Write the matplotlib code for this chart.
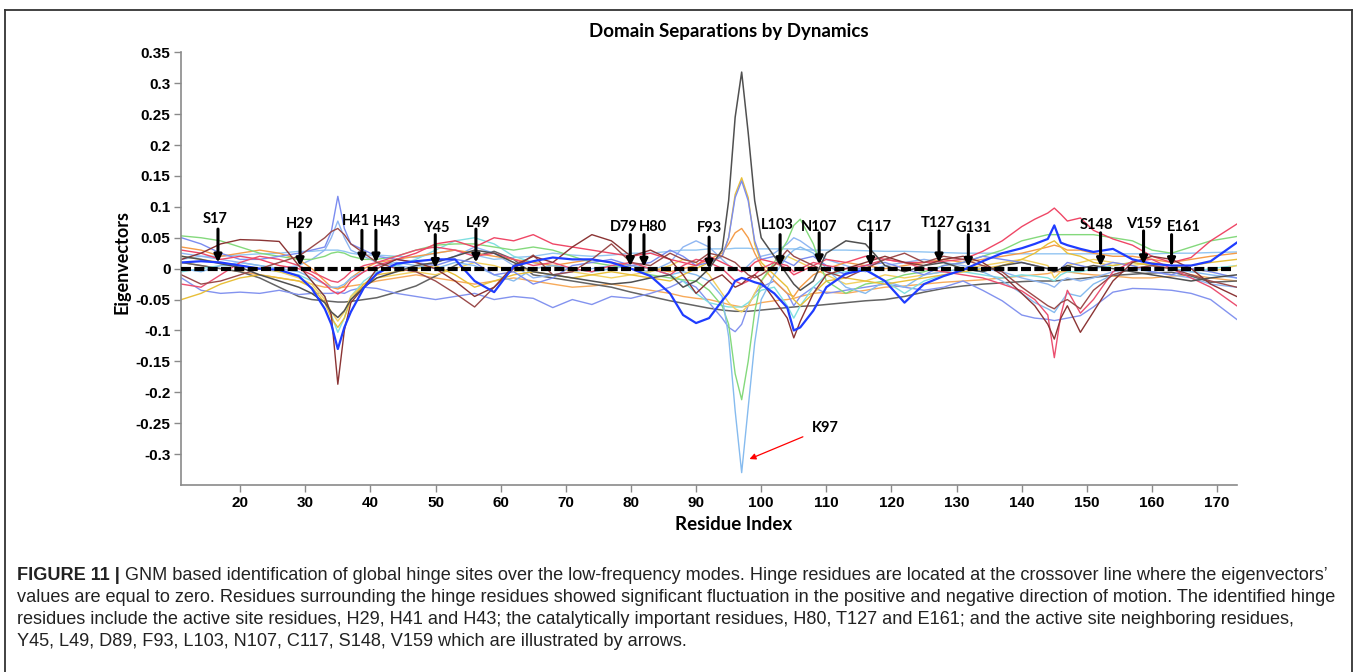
import numpy as np
import matplotlib.pyplot as plt
from matplotlib.lines import Line2D

# residue positions where the mode shapes are sampled
residue = [11, 14, 17, 20, 23, 26, 29, 31, 33, 34,
           35, 36, 37, 39, 41, 44, 47, 50, 53, 56,
           59, 62, 65, 68, 71, 74, 77, 80, 83, 86,
           88, 90, 92, 94, 95, 96, 97, 98, 99, 100,
           102, 104, 105, 106, 108, 110, 113, 116, 119, 122,
           125, 128, 131, 134, 137, 140, 142, 144, 145, 146,
           147, 149, 151, 154, 157, 160, 163, 166, 169, 173]

# eigenvector components of the slow GNM modes, in units of 1e-3
mode_gray_peak = [20, 15, 8, 2, -10, -20, -30, -40, -55, -70,
                  -79, -68, -50, -30, -15, -5, 5, 10, 20, 30,
                  25, 10, -5, -10, -15, -20, -25, -22, -15, -10,
                  -30, -20, 0, 30, 110, 245, 318, 220, 110, 50,
                  20, -10, -25, -35, -20, 25, 45, 40, 5, -5,
                  5, 10, 0, -5, 5, 10, 5, 0, -5, 0,
                  5, 0, 5, 0, -5, -10, -15, -20, -15, -10]
mode_gray_flat = [10, 5, 0, -5, -15, -30, -45, -50, -52, -53,
                  -54, -54, -53, -50, -47, -38, -28, -12, 5, 20,
                  28, 15, -10, -15, -20, -25, -30, -38, -45, -52,
                  -56, -60, -64, -67, -68, -69, -69, -69, -68, -67,
                  -65, -63, -62, -61, -60, -58, -55, -52, -50, -45,
                  -38, -32, -28, -25, -23, -21, -20, -20, -20, -19,
                  -18, -16, -14, -11, -9, -7, -6, -12, -22, -20]
mode_brown_a = [15, 25, 40, 47, 46, 44, 5, -20, -45, -75,
                -187, -100, -55, -30, 0, 15, 10, 0, -20, -45,
                -30, 5, 20, 10, 35, 55, 45, 20, 30, 15,
                -10, -40, -20, -10, -20, -30, -25, -15, -10, -20,
                -50, -80, -112, -85, -40, -10, 0, 10, 20, 10,
                5, 15, 20, 10, -10, -40, -60, -90, -114, -80,
                -60, -103, -70, -20, 10, 20, 15, 0, -25, -45]
mode_brown_b = [-10, -25, -20, -10, 0, 10, 20, 35, 50, 60,
                65, 55, 40, 25, 10, 0, -5, -20, -40, -62,
                -30, 0, 22, -10, -5, 15, 40, 10, 5, 25,
                15, 10, 25, 20, 15, 10, 0, -10, -15, -10,
                5, 30, 20, 15, 5, -5, -15, 0, 15, 25,
                10, 20, 15, 5, -5, -30, -45, -60, -65, -55,
                -50, -65, -35, -10, 0, 5, 0, -10, -20, -30]
mode_blue = [10, 12, 10, 5, 0, -2, -12, -32, -65, -90,
             -130, -95, -70, -31, -8, 8, 12, 15, 15, -20,
             -38, 4, 12, 18, 15, 15, 10, 0, -12, -40,
             -75, -88, -80, -52, -39, -20, -15, -18, -22, -25,
             -40, -63, -100, -95, -68, -30, -8, -2, -20, -55,
             -25, -12, -2, 12, 25, 33, 40, 48, 70, 42,
             38, 32, 27, 32, 15, 8, 5, 5, 12, 42]
mode_red_a = [30, 25, 15, 20, 15, 5, 0, -10, -25, -35,
              -41, -35, -20, -5, 5, 15, 25, 40, 45, 35,
              50, 45, 55, 40, 35, 30, 25, 20, 25, 15,
              10, 5, 20, 10, 5, 0, -5, 0, 10, 15,
              10, 0, -10, -5, 5, 15, 10, 20, 15, 10,
              10, 12, 15, 28, 45, 68, 80, 90, 98, 88,
              77, 82, 62, 48, 38, 20, 10, 18, 45, 72]
mode_red_b = [-25, -30, -10, 10, 20, 15, 5, -5, -15, -20,
              -22, -15, -5, 5, 10, 20, 30, 35, 30, 20,
              25, 15, 5, 10, 0, -5, 5, 10, 0, -10,
              5, 15, 10, 0, -10, -20, -25, -20, -10, 0,
              10, 5, -5, 0, 10, 5, 0, 5, 15, 10,
              0, -5, -10, -15, -25, -36, -50, -75, -144, -75,
              -35, -72, -50, -5, 12, 15, 0, -15, -30, -60]
mode_violet_a = [50, 40, 25, 15, 15, 20, 25, 30, 35, 60,
                 117, 65, 40, 30, 20, 15, 10, 5, 15, 10,
                 -10, -5, -25, -15, 5, 10, 15, 5, 10, 30,
                 20, 5, 10, 20, 50, 115, 142, 110, 45, 15,
                 20, 10, 5, 15, 20, 5, -10, 5, 10, 0,
                 -10, 5, 10, 20, 15, 10, 5, 0, -5, 0,
                 10, 5, 0, 10, 5, -5, -10, 0, -5, -15]
mode_violet_b = [-15, -35, -40, -38, -40, -35, -42, -40, -40, -40,
                 -38, -40, -35, -30, -32, -40, -45, -50, -45, -40,
                 -50, -45, -48, -63, -50, -58, -45, -48, -40, -30,
                 -20, -30, -55, -80, -95, -102, -90, -60, -40, -30,
                 -20, -40, -60, -45, -30, -40, -35, -30, -25, -30,
                 -35, -30, -20, -35, -52, -75, -80, -82, -84, -82,
                 -80, -76, -62, -38, -32, -33, -35, -40, -50, -82]
mode_sky_flat = [15, 20, 20, 22, 24, 25, 28, 28, 30, 30,
                 30, 28, 25, 22, 22, 20, 18, 25, 30, 22,
                 15, 18, 20, 25, 22, 20, 22, 25, 25, 28,
                 30, 30, 32, 32, 32, 33, 33, 33, 32, 32,
                 32, 32, 32, 31, 30, 30, 30, 29, 28, 28,
                 27, 26, 25, 25, 25, 24, 24, 24, 24, 24,
                 24, 24, 24, 24, 24, 24, 25, 25, 26, 27]
mode_sky_dip = [0, -5, 5, 10, 5, 0, -5, -15, -25, -30,
                -30, -25, -15, -5, 5, 10, 5, 0, 10, 5,
                -10, -20, 0, 5, 0, -5, 0, 5, 0, -10,
                -5, -10, -20, -45, -110, -230, -330, -225, -120, -50,
                -10, 20, 30, 35, 25, 0, -30, -40, -20, -30,
                -10, -5, 0, -5, -20, -40, -55, -65, -71, -55,
                -40, -45, -25, -10, 0, 5, 0, -5, -10, -15]
mode_green = [53, 50, 45, 35, 25, 20, 15, 15, 20, 25,
              27, 25, 20, 15, 15, 20, 30, 38, 40, 40,
              35, 30, 35, 30, 20, 10, 5, 0, -10, -15,
              -18, -20, -35, -60, -90, -170, -212, -150, -70, -20,
              10, 45, 70, 80, 40, -20, -40, -25, -20, -10,
              -5, 5, 10, 20, 30, 45, 50, 55, 55, 55,
              55, 55, 55, 50, 45, 30, 25, 35, 45, 52]
mode_orange_a = [35, 30, 20, 25, 30, 25, 15, 0, -20, -30,
                 -33, -28, -15, 0, 10, 15, 20, 25, 30, 25,
                 20, 15, 10, 5, 10, 15, 10, 5, 0, -5,
                 0, 5, 15, 25, 40, 58, 65, 50, 25, 5,
                 -20, -40, -45, -30, -10, 0, 10, 5, 0, 5,
                 10, 15, 10, 15, 20, 25, 30, 35, 38, 35,
                 30, 30, 25, 20, 20, 15, 10, 15, 20, 25]
mode_orange_b = [10, 5, 0, -5, -10, -15, -20, -25, -30, -30,
                 -31, -30, -28, -25, -20, -15, -10, -15, -20, -25,
                 -20, -15, -20, -25, -30, -28, -25, -30, -35, -40,
                 -45, -48, -50, -55, -58, -60, -62, -60, -58, -55,
                 -52, -50, -48, -45, -40, -38, -40, -35, -30, -28,
                 -25, -22, -20, -18, -15, -12, -10, -8, -5, -5,
                 -5, -8, -10, -12, -15, -15, -12, -10, -15, -20]
mode_gold = [-50, -40, -25, -15, -10, -15, -20, -30, -55, -80,
             -95, -80, -50, -25, -10, -5, 0, 5, -10, -30,
             -20, -10, -5, -10, -15, -10, -5, -10, -15, -20,
             -10, 0, 10, 20, 50, 120, 147, 115, 40, 10,
             -10, -30, -50, -60, -40, -20, -15, -20, -25, -20,
             -15, -10, -5, 0, 5, 15, 25, 40, 45, 35,
             25, 20, 10, 5, 10, 5, 0, 5, 10, 15]
mode_yellow = [20, 15, 10, 5, 0, -5, -15, -25, -50, -70,
               -85, -70, -45, -25, -15, -10, -5, -10, 0, 10,
               5, -5, 0, 5, -5, -10, -15, -10, -5, 5,
               15, 10, -10, -40, -55, -65, -70, -60, -40, -20,
               5, 20, 15, 10, 0, -10, -25, -20, -10, -15,
               -10, -5, 0, 5, 10, 15, 10, 5, -15, -5,
               5, 10, 15, 10, 5, 10, 5, 0, -5, 5]
mode_cyan = [-5, 0, 5, 5, 0, -5, -10, -20, -45, -75,
             -103, -80, -45, -20, -5, 5, 15, 30, 45, 50,
             40, 20, 10, 5, 0, -5, 0, 5, 0, -10,
             -20, -40, -55, -60, -62, -62, -62, -55, -45, -35,
             -30, -60, -80, -60, -30, -10, -5, 0, -20, -40,
             -20, -10, -5, -10, -15, -10, -12, -15, -20, -10,
             -5, -5, 0, 5, 10, 5, 0, -5, 0, 5]
mode_light_blue = [25, 20, 15, 10, 5, 0, 5, 15, 30, 50,
                   77, 50, 30, 20, 10, 5, 0, 10, 20, 35,
                   25, 5, -15, -10, -5, 0, 5, 0, -5, 10,
                   35, 45, 35, 15, 5, 0, -5, 5, 15, 20,
                   25, 40, 50, 45, 30, 15, 5, -5, 5, 10,
                   15, 10, 5, 0, -5, -15, -20, -25, -30, -20,
                   -15, -20, -15, -5, 0, -5, -10, -15, -25, -30]

# hinge residues marked with arrows
hinge_names = ['S17', 'H29', 'H41', 'H43', 'Y45', 'L49', 'D79', 'H80', 'F93',
               'L103', 'N107', 'C117', 'T127', 'G131', 'S148', 'V159', 'E161']
hinge_pos = [16.6, 29.2, 38.7, 40.85, 49.96, 56.2, 79.9, 82.0, 92.0,
             102.9, 108.9, 116.8, 127.3, 131.8, 152.1, 158.7, 163.0]
arrow_top = [0.064, 0.058, 0.062, 0.062, 0.055, 0.064, 0.055, 0.055, 0.051,
             0.055, 0.058, 0.058, 0.061, 0.055, 0.058, 0.061, 0.055]
arrow_tip = [0.010, 0.004, 0.010, 0.010, 0.001, 0.010, 0.004, 0.003, 0.000,
             0.004, 0.007, 0.004, 0.010, 0.003, 0.004, 0.007, 0.004]
label_pos = [16.15, 29.1, 37.8, 42.5, 50.2, 56.5, 78.9, 83.4, 92.0,
             102.5, 108.9, 117.3, 127.1, 132.6, 151.4, 158.7, 164.9]
label_y = [0.080, 0.072, 0.077, 0.076, 0.066, 0.074, 0.068, 0.068, 0.066,
           0.070, 0.068, 0.068, 0.074, 0.066, 0.070, 0.073, 0.067]

yticks = [-0.3, -0.25, -0.2, -0.15, -0.1, -0.05, 0, 0.05, 0.1, 0.15, 0.2, 0.25, 0.3, 0.35]
xticks = [20, 30, 40, 50, 60, 70, 80, 90, 100, 110, 120, 130, 140, 150, 160, 170]

caption = [
    'GNM based identification of global hinge sites over the low-frequency modes. Hinge residues are located at the crossover line where the eigenvectors\u2019',
    'values are equal to zero. Residues surrounding the hinge residues showed significant fluctuation in the positive and negative direction of motion. The identified hinge',
    'residues include the active site residues, H29, H41 and H43; the catalytically important residues, H80, T127 and E161; and the active site neighboring residues,',
    'Y45, L49, D89, F93, L103, N107, C117, S148, V159 which are illustrated by arrows.',
]

plt.rcParams['font.family'] = ['Lato', 'DejaVu Sans']
W, H = 1359, 672
fig = plt.figure(figsize=(W / 100, H / 100), dpi=100)
ax = fig.add_axes([181.5 / W, 1 - 485 / H, (1236.7 - 181.5) / W, (485 - 52.3) / H])

res = np.array(residue)
lines = [
    (mode_sky_flat, '#92c5f2', 1.0),
    (mode_orange_b, '#f7aa5a', 1.0),
    (mode_gray_flat, '#646464', 1.1),
    (mode_light_blue, '#8fb6f2', 1.0),
    (mode_violet_b, '#8393ef', 1.0),
    (mode_cyan, '#7fdfe0', 1.0),
    (mode_yellow, '#f2d160', 1.0),
    (mode_orange_a, '#f59c48', 1.0),
    (mode_green, '#84d97c', 1.0),
    (mode_sky_dip, '#86bbef', 1.0),
    (mode_gold, '#e8bf38', 1.0),
    (mode_violet_a, '#7b8cf0', 1.0),
    (mode_red_b, '#eb4f70', 1.0),
    (mode_red_a, '#ef4766', 1.0),
    (mode_brown_b, '#9a4a4a', 1.0),
    (mode_brown_a, '#8b3434', 1.0),
    (mode_gray_peak, '#505050', 1.1),
    (mode_blue, '#1f3cff', 1.6),
]
for vals, col, lw in lines:
    ax.plot(res, np.array(vals) / 1000, color=col, lw=lw, solid_joinstyle='round')

# zero crossover line
ax.plot([11, 172.5], [0, 0], color='black', lw=3.0, linestyle=(0, (2.4, 0.8)), zorder=5)

for name, x, top, tip, lx, ly in zip(hinge_names, hinge_pos, arrow_top, arrow_tip, label_pos, label_y):
    ax.annotate('', xy=(x, tip), xytext=(x, top),
                arrowprops=dict(arrowstyle='-|>', color='black', lw=2.2,
                                mutation_scale=11, shrinkA=0, shrinkB=0), zorder=6)
    ax.text(lx, ly, name, ha='center', va='center', fontsize=10.5,
            fontweight='bold', zorder=6)

ax.annotate('', xy=(98.2, -0.308), xytext=(106.4, -0.272),
            arrowprops=dict(arrowstyle='-|>', color='red', lw=0.9,
                            mutation_scale=9, shrinkA=0, shrinkB=0))
ax.text(109.8, -0.257, 'K97', ha='center', va='center', fontsize=10.5, fontweight='bold')

ax.set_xlim(11, 173)
ax.set_ylim(-0.35, 0.35)
ax.set_yticks(yticks, ['{:g}'.format(v) for v in yticks])
ax.set_xticks(xticks)
for side in ['top', 'right']:
    ax.spines[side].set_visible(False)
for side in ['left', 'bottom']:
    ax.spines[side].set_color('#8a8a8a')
    ax.spines[side].set_linewidth(1.2)
ax.tick_params(direction='out', length=5, width=1, color='#8a8a8a', pad=3)
for lab in ax.get_xticklabels() + ax.get_yticklabels():
    lab.set_family(['Liberation Sans', 'DejaVu Sans'])
    lab.set_fontweight('bold')
    lab.set_fontsize(11)

fig.text(729 / W, 1 - 32 / H, 'Domain Separations by Dynamics', ha='center', va='center',
         fontsize=13.5, fontweight='bold')
fig.text(734 / W, 1 - 525 / H, 'Residue Index', ha='center', va='center',
         fontsize=13.5, fontweight='bold')
fig.text(122 / W, 1 - 262 / H, 'Eigenvectors', ha='center', va='center', rotation=90,
         fontsize=13, fontweight='bold')

# frame around the figure panel
frame = dict(color='#333333', lw=1.3, transform=fig.transFigure)
fig.add_artist(Line2D([5 / W, 5 / W], [0, 1 - 9.7 / H], **frame))
fig.add_artist(Line2D([5 / W, 1352 / W], [1 - 9.7 / H, 1 - 9.7 / H], **frame))
fig.add_artist(Line2D([1352 / W, 1352 / W], [0, 1 - 9.7 / H], **frame))

cap_font = ['Liberation Sans', 'DejaVu Sans']
cap_size = 13.1
cap_y = [575, 598, 620, 642]
head = fig.text(17 / W, 1 - cap_y[0] / H, 'FIGURE 11 |', ha='left', va='center',
                fontsize=cap_size, fontweight='bold', family=cap_font, color='#222222')
ax.annotate(' ' + caption[0], xy=(1, 0.5), xycoords=head, ha='left', va='center',
            fontsize=cap_size, family=cap_font, color='#222222', annotation_clip=False)
for line, y in zip(caption[1:], cap_y[1:]):
    fig.text(17 / W, 1 - y / H, line, ha='left', va='center', fontsize=cap_size,
             family=cap_font, color='#222222')

fig.savefig('out.png', dpi=100)
